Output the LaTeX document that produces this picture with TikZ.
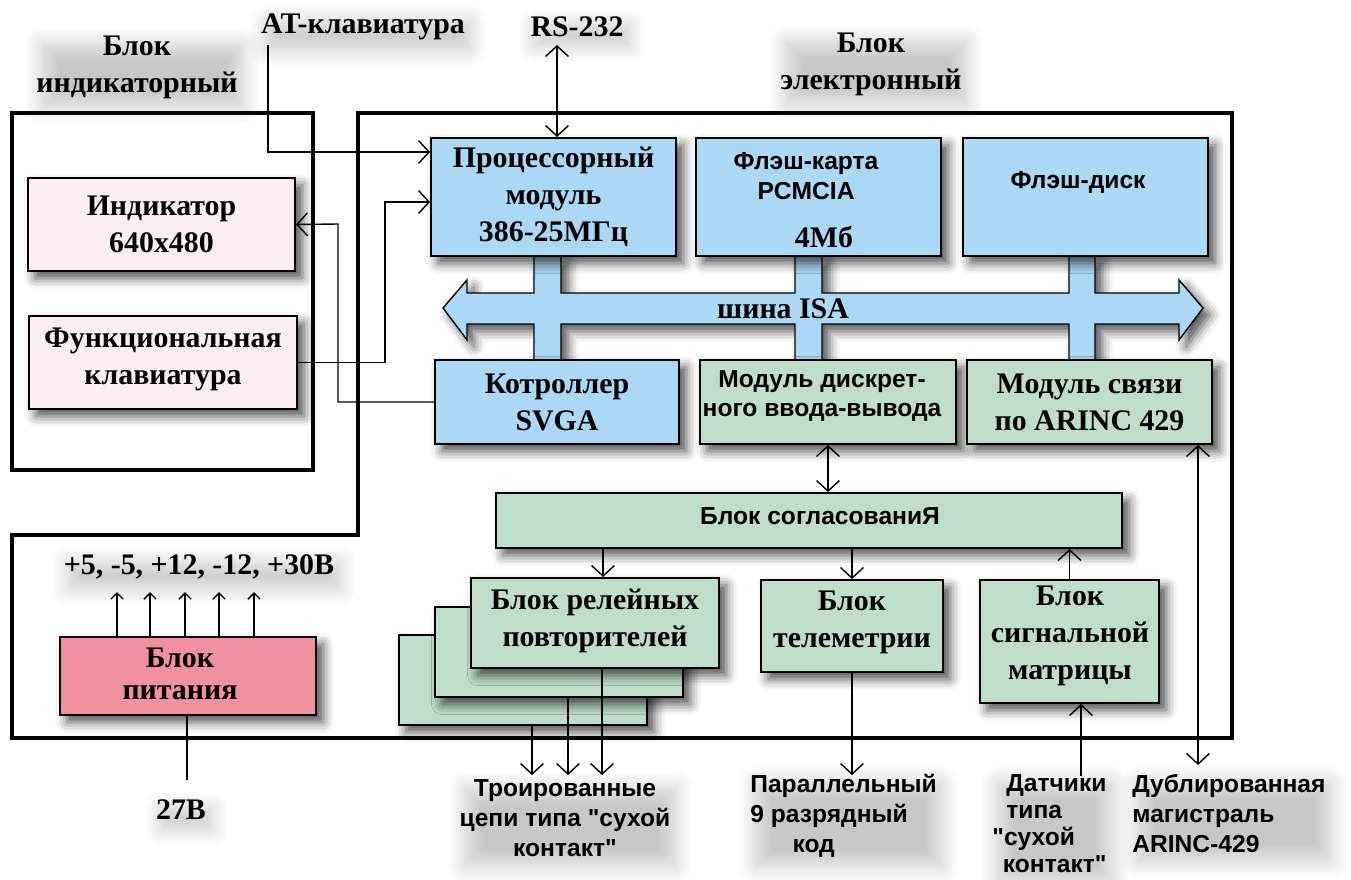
\documentclass[tikz,border=0pt]{standalone}
\usepackage{fontspec}
\setmainfont{Liberation Serif}
\setsansfont{Liberation Sans}
\usetikzlibrary{arrows.meta,fit,shadows.blur}

\definecolor{cpublue}{RGB}{170,216,245}
\definecolor{modgreen}{RGB}{190,222,202}
\definecolor{indpink}{RGB}{252,238,243}
\definecolor{psured}{RGB}{240,145,160}

\newcommand{\rmbig}{\rmfamily\fontsize{17}{21}\selectfont\bfseries}
\newcommand{\sfbig}{\sffamily\fontsize{14}{17}\selectfont\bfseries}

\tikzset{
  blk/.style={draw, line width=1.1pt, inner sep=0pt,
    blur shadow={shadow xshift=4pt, shadow yshift=-4pt, shadow blur radius=6pt, shadow opacity=70}},
  pink blk/.style={blk, fill=indpink},
  blue blk/.style={blk, fill=cpublue},
  green blk/.style={blk, fill=modgreen},
  red blk/.style={blk, fill=psured},
  rmtxt/.style={font=\rmbig, align=center, inner sep=0pt},
  sftxt/.style={font=\sfbig, align=center, inner sep=0pt},
  blockframe/.style={line width=2.4pt},
  glow/.style={blur shadow={shadow xshift=3pt, shadow yshift=-5pt, shadow blur radius=10pt, shadow blur steps=12, shadow opacity=22}},
  rmlbl/.style={rmtxt, inner sep=0pt, glow},
  sflbl/.style={sftxt, inner sep=0pt, glow},
  link/.style={line width=0.8pt, -{Straight Barb[length=6pt,width=13pt]}},
  dlink/.style={line width=0.8pt, {Straight Barb[length=6pt,width=13pt]}-{Straight Barb[length=6pt,width=13pt]}},
  plink/.style={line width=0.8pt, -{Straight Barb[length=3.5pt,width=7pt]}},
  wire/.style={line width=0.8pt},
  bus/.style={fill=cpublue, draw, line width=0.8pt,
    blur shadow={shadow xshift=4pt, shadow yshift=-4pt, shadow blur radius=6pt, shadow opacity=70}}
}

\begin{document}
\begin{tikzpicture}[x=0.02cm, y=-0.02cm]
  \useasboundingbox (0,0) rectangle (1351,879);

  % frames of the two blocks
  \draw[blockframe] (12,113) rectangle (313,470);
  \draw[blockframe] (358,113) -- (1232,113) -- (1232,738) -- (12,738) -- (12,535) -- (358,535) -- cycle;

  % ISA bus
  \path[bus] (443,308) -- (467,280) -- (467,293) -- (534,293) -- (534,256) -- (561,256) -- (561,293)
    -- (795,293) -- (795,256) -- (822,256) -- (822,293) -- (1069,293) -- (1069,256) -- (1095,256)
    -- (1095,293) -- (1179,293) -- (1179,280) -- (1203,308) -- (1179,340) -- (1179,324) -- (1095,324)
    -- (1095,360) -- (1069,360) -- (1069,324) -- (822,324) -- (822,360) -- (795,360) -- (795,324)
    -- (561,324) -- (561,360) -- (534,360) -- (534,324) -- (467,324) -- (467,340) -- cycle;
  \node[rmtxt] (isa) at (783,309) {шина ISA};

  % indicator block
  \node[pink blk, fit={(28,178) (295,271)}] (ind) {};
  \node[rmtxt] (ind-t) at (ind) {Индикатор\\640x480};
  \node[pink blk, fit={(29,316) (297,409)}] (kbd) {};
  \node[rmtxt] (kbd-t) at (163,359) {Функциональная\\клавиатура};

  % electronic block
  \node[blue blk, fit={(431,138) (676,256)}] (cpu) {};
  \node[rmtxt] (cpu-t) at (cpu) {Процессорный\\модуль\\386-25МГц};
  \node[blue blk, fit={(696,138) (941,256)}] (fcard) {};
  \node[sftxt] (fcard-t) at (806,176) {Флэш-карта\\PCMCIA};
  \node[rmtxt] (fcard-m) at (824,237) {4Мб};
  \node[blue blk, fit={(963,138) (1208,256)}] (fdisk) {};
  \node[sftxt] (fdisk-t) at (1078,182) {Флэш-диск};
  \node[blue blk, fit={(435,360) (679,444)}] (svga) {};
  \node[rmtxt] (svga-t) at (svga) {Котроллер\\SVGA};
  \node[green blk, fit={(700,360) (956,444)}] (dio) {};
  \node[sftxt] (dio-t) at (822,396) {Модуль дискрет-\\ного ввода-вывода};
  \node[green blk, fit={(967,360) (1212,444)}] (arinc) {};
  \node[rmtxt] (arinc-t) at (arinc) {Модуль связи\\по ARINC 429};
  \node[green blk, fit={(496,493) (1122,548)}] (match) {};
  \node[sftxt] (match-t) at (820,516) {Блок согласованиЯ};
  \node[green blk, fit={(399,635) (647,725)}] (relay3) {};
  \node[green blk, fit={(435,607) (683,697)}] (relay2) {};
  \node[green blk, fit={(471,578) (719,668)}] (relay1) {};
  \node[rmtxt] (relay-t) at (595,621) {Блок релейных\\повторителей};
  \node[green blk, fit={(761,580) (943,672)}] (tele) {};
  \node[rmtxt] (tele-t) at (852,622) {Блок\\телеметрии};
  \node[green blk, fit={(980,580) (1159,703)}] (matrix) {};
  \node[rmtxt] (matrix-t) at (1070,636) {Блок\\сигнальной\\матрицы};
  \node[red blk, fit={(60,637) (316,715)}] (psu) {};
  \node[rmtxt, font=\rmfamily\fontsize{17}{18.5}\selectfont\bfseries] (psu-t) at (180,674) {Блок\\питания};

  % labels
  \node[rmlbl] (indlbl) at (137,67) {Блок\\индикаторный};
  \node[rmlbl] (atlbl) at (363,27) {AT-клавиатура};
  \node[rmlbl] (rslbl) at (577,27) {RS-232};
  \node[rmlbl] (ellbl) at (871,64) {Блок\\электронный};
  \node[rmlbl] (vlbl) at (199,567) {+5, -5, +12, -12, +30В};
  \node[rmlbl] (inlbl) at (181,810) {27В};
  \node[sflbl] (trlbl) at (565,818) {Троированные\\цепи типа \textquotedbl сухой\\контакт\textquotedbl};
  \node[sflbl, align=left, anchor=north west] (parlbl) at (750,774) {Параллельный\\9 разрядный\\\hspace*{24pt}код};
  \node[sflbl, align=left, anchor=north west, font=\sffamily\fontsize{14}{15.5}\selectfont\bfseries] (drylbl) at (992,774)
    {\hspace*{8pt}Датчики\\\hspace*{8pt}типа\\\textquotedbl сухой\\\hspace*{6pt}контакт\textquotedbl};
  \node[sflbl, align=left, anchor=north west] (duplbl) at (1132,774) {Дублированная\\магистраль\\ARINC-429};

  % connections
  \coordinate (at-in) at (268,45);
  \draw[link] (at-in) |- (cpu.west |- 0,152);
  \coordinate (rs-in) at (557,45);
  \draw[dlink] (rs-in) -- (rs-in |- cpu.north);
  \draw[link] (kbd.east) -| (385,202) -- (cpu.west |- 0,202);
  \draw[link] (svga.west) -| (338,224) -- (ind.east);
  \draw[dlink] (dio.south) -- (dio.south |- match.north);
  \draw[link] (match.south -| 603,0) -- (relay1.north -| 603,0);
  \draw[link] (match.south -| tele.north) -- (tele.north);
  \draw[link] (matrix.north) -- (matrix.north |- match.south);
  \coordinate (arinc-out) at (1198,765);
  \draw[dlink] (arinc-out) -- (arinc-out |- arinc.south);
  \coordinate (dry-in) at (1081,776);
  \draw[link] (dry-in) -- (dry-in |- matrix.south);
  \coordinate (par-out) at (852,775);
  \draw[link] (tele.south) -- (par-out);
  \foreach \x/\b in {532/relay3, 568/relay2, 602/relay1}
    \draw[link] (\b.south -| \x,0) -- (\x,775);
  \foreach \x in {117,150,185,219,254}
    \draw[plink] (psu.north -| \x,0) -- (\x,592);
  \coordinate (in-27) at (187,780);
  \draw[wire] (psu.south -| in-27) -- (in-27);
\end{tikzpicture}
\end{document}
